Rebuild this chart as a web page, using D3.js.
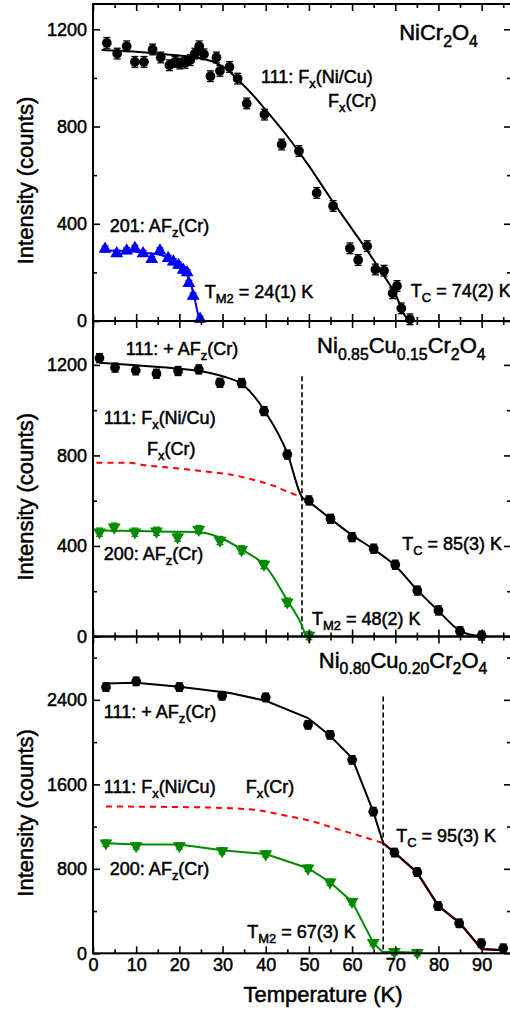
<!DOCTYPE html>
<html>
<head>
<meta charset="utf-8">
<title>Ni(1-x)Cu(x)Cr2O4 - magnetic intensities</title>
<script src="https://cdn.jsdelivr.net/npm/d3@7"></script>
<style>
  body { margin: 0; background: #fff; }
  svg text { font-family: "Liberation Sans", Arial, sans-serif; fill: #000; }
</style>
</head>
<body>
<svg></svg>
<script>
// ---- data ----
// panel 1: NiCr2O4
const t1Black = [3.2,5.6,7.8,9.7,11.8,13.8,15.7,17.7,19.0,20.1,21.3,22.5,23.6,24.6,25.7,27.2,28.6,29.4,31.6,33.5,35.6,39.7,43.7,47.7,51.8,55.6,59.5,61.4,63.5,65.4,67.4,69.4,70.4,71.4,73.4];
const i1Black = [1144,1100,1130,1066,1066,1117,1084,1052,1066,1059,1062,1073,1100,1130,1097,1007,1084,1029,1045,997,895,849,726,699,527,473,299,251,308,212,207,114,144,52,7];
const err1Black = 22;
const t1BlackFit = [2,10,15,20,25,28,31,34,37,40,45,50,55,60,65,70,73,74.5];
const i1BlackFit = [1115,1108,1100,1092,1080,1065,1035,985,930,868,760,638,505,378,250,110,5,0];
const t1Blue = [2.8,5.5,7.8,9.7,11.6,13.6,15.5,17.4,18.6,19.8,20.9,21.8,22.2,23.2,24.8];
const i1Blue = [296,278,289,299,278,254,289,258,244,230,210,199,155,103,8];
const err1Blue = 12;
const t1BlueFit = [2.8,8,12,15,18,20,21.5,22.5,23.5,24.3,24.8,25.6];
const i1BlueFit = [290,288,280,275,255,232,200,160,95,30,2,0];

// panel 2: Ni0.85Cu0.15Cr2O4
const t2Black = [1.5,5.1,9.9,14.7,19.7,24.5,29.4,34.4,39.6,45,50,55,60,65,70,75.1,80,85,90];
const i2Black = [1230,1188,1176,1161,1173,1180,1121,1120,996,804,601,520,439,388,317,203,115,23,4];
const err2Black = 20;
const t2BlackFit = [1.5,10,20,25,30,35,40,45,48.4,50,55,60,65,70,75,80,85,87,90];
const i2BlackFit = [1210,1198,1183,1172,1150,1108,990,810,616,595,520,448,385,313,207,113,25,10,2];
const t2Green = [1.5,4.9,9.7,14.7,19.6,24.5,29.4,34.4,39.6,45,50];
const i2Green = [461,483,461,465,439,472,424,383,318,152,4];
const err2Green = 18;
const t2GreenFit = [1.5,10,20,25,30,35,40,45,48,49.5,51];
const i2GreenFit = [468,466,463,460,432,378,310,160,65,5,3];
const t2Red = [0.8,8,12,20,28,32,38,42,45,48.4];
const i2Red = [768,768,757,742,725,715,688,665,640,616];
const tm2Line2 = 48.4, tm2Top2 = 1150;

// panel 3: Ni0.80Cu0.20Cr2O4
const t3Black = [3,10,20,29.9,40,49.8,54.9,60,64.9,69.8,75.1,79.9,84.8,89.9,95];
const i3Black = [2521,2575,2521,2439,2423,2164,2069,1832,1342,954,768,448,284,95,47];
const err3Black = 40;
const t3BlackFit = [3,10,20,31.7,40,49.8,54.9,60,64.9,67.2,69.8,75,80,85,90,95];
const i3BlackFit = [2555,2562,2525,2464,2392,2228,2060,1849,1342,1043,954,768,448,284,40,30];
const t3Green = [3,10,20,29.9,40,49.8,54.9,60,64.9,69.8,75.1];
const i3Green = [1043,1017,1017,970,941,806,673,489,100,15,6];
const err3Green = 30;
const t3GreenFit = [3,10,20,29.9,40,49.8,54.9,60,64.9,67,70,75];
const i3GreenFit = [1043,1030,1030,975,941,806,673,489,100,15,12,8];
const t3Red = [3,20,31.7,37.5,45,49.5,57.2,62,67.2];
const i3Red = [1390,1385,1374,1358,1300,1263,1169,1110,1043];
const tm2Line3 = 67.2, tm2Top3 = 2432;

// axes
const xDomain = [0, 96.8];
const xMajor = [0,10,20,30,40,50,60,70,80,90];
const xMinor = [5,15,25,35,45,55,65,75,85,95];

// ---- drawing ----
const svg = d3.select('svg').attr('width', 510).attr('height', 1012);
const x = d3.scaleLinear().domain(xDomain).range([93, 511]);

const panels = [
  { top: 4, bottom: 321, ymax: 1304, yMajor: [0,400,800,1200], yMinor: [200,600,1000],
    series: [
      { fitT: t1BlackFit, fitI: i1BlackFit, t: t1Black, i: i1Black, err: err1Black, color: '#000', mark: 'circle', curve: d3.curveMonotoneX },
      { fitT: t1BlueFit, fitI: i1BlueFit, t: t1Blue, i: i1Blue, err: err1Blue, color: '#0000ff', mark: 'up', curve: d3.curveMonotoneX }
    ],
    labels: [
      { s: 'NiCr_{2}O_{4}', t: 70.9, v: 1156, size: 22 },
      { s: '111: F_{x}(Ni/Cu)', t: 38.9, v: 979 },
      { s: 'F_{x}(Cr)', t: 54.4, v: 880 },
      { s: '201: AF_{z}(Cr)', t: 3.9, v: 366 },
      { s: 'T_{M2} = 24(1) K', t: 25.9, v: 95 },
      { s: 'T_{C} = 74(2) K', t: 73.6, v: 99 }
    ] },
  { top: 321, bottom: 636.5, ymax: 1394, yMajor: [0,400,800,1200], yMinor: [200,600,1000],
    red: { t: t2Red, i: i2Red }, vline: { t: tm2Line2, top: tm2Top2 },
    series: [
      { fitT: t2BlackFit, fitI: i2BlackFit, t: t2Black, i: i2Black, err: err2Black, color: '#000', mark: 'circle', curve: d3.curveMonotoneX },
      { fitT: t2GreenFit, fitI: i2GreenFit, t: t2Green, i: i2Green, err: err2Green, color: '#008a00', mark: 'down', curve: d3.curveMonotoneX }
    ],
    labels: [
      { s: 'Ni_{0.85}Cu_{0.15}Cr_{2}O_{4}', t: 51.9, v: 1253, size: 22 },
      { s: '111: + AF_{z}(Cr)', t: 7.6, v: 1244 },
      { s: '111: F_{x}(Ni/Cu)', t: 2.5, v: 939 },
      { s: 'F_{x}(Cr)', t: 12.5, v: 802 },
      { s: '200: AF_{z}(Cr)', t: 2.5, v: 338 },
      { s: 'T_{C} = 85(3) K', t: 71.6, v: 382 },
      { s: 'T_{M2} = 48(2) K', t: 50.7, v: 51 }
    ] },
  { top: 636.5, bottom: 953.3, ymax: 3000, yMajor: [0,800,1600,2400], yMinor: [400,1200,2000,2800],
    red: { t: t3Red, i: i3Red, tail: true }, vline: { t: tm2Line3, top: tm2Top3 },
    series: [
      { fitT: t3BlackFit, fitI: i3BlackFit, t: t3Black, i: i3Black, err: err3Black, color: '#000', mark: 'circle', curve: d3.curveLinear },
      { fitT: t3GreenFit, fitI: i3GreenFit, t: t3Green, i: i3Green, err: err3Green, color: '#008a00', mark: 'down', curve: d3.curveLinear }
    ],
    labels: [
      { s: 'Ni_{0.80}Cu_{0.20}Cr_{2}O_{4}', t: 52.3, v: 2703, size: 22 },
      { s: '111: + AF_{z}(Cr)', t: 2.5, v: 2229 },
      { s: '111: F_{x}(Ni/Cu)', t: 2.5, v: 1519 },
      { s: 'F_{x}(Cr)', t: 35.4, v: 1519 },
      { s: '200: AF_{z}(Cr)', t: 3.9, v: 742 },
      { s: 'T_{C} = 95(3) K', t: 70.2, v: 1055 },
      { s: 'T_{M2} = 67(3) K', t: 35.7, v: 145 }
    ] }
];

const textStroke = 0.5;

// text with _{sub} parts
function richText(g, str, px, py, size) {
  const t = g.append('text').attr('x', px).attr('y', py).attr('font-size', size)
    .style('stroke', '#000').style('stroke-width', textStroke);
  const parts = str.split(/(_\{[^}]*\})/).filter(p => p.length);
  let shift = 0;
  parts.forEach(p => {
    const ts = t.append('tspan');
    if (p.startsWith('_{')) {
      const target = size * 0.3;
      ts.text(p.slice(2, -1)).attr('font-size', size * 0.72).attr('dy', target - shift);
      shift = target;
    } else {
      ts.text(p).attr('dy', -shift);
      shift = 0;
    }
  });
}

const circleSym = d3.symbol(d3.symbolCircle, 75);
const triSym = d3.symbol(d3.symbolTriangle, 72);

panels.forEach((p, k) => {
  const y = d3.scaleLinear().domain([0, p.ymax]).range([p.bottom, p.top]);
  const g = svg.append('g');
  const line = (curve) => d3.line().x(d => x(d[0])).y(d => y(d[1])).curve(curve);

  // dashed red F_x(Cr) component
  if (p.red) {
    g.append('path').datum(d3.zip(p.red.t, p.red.i))
      .attr('d', line(d3.curveMonotoneX)).attr('fill', 'none')
      .attr('stroke', '#ff0000').attr('stroke-width', 2).attr('stroke-dasharray', '6,5');
    if (p.red.tail) {
      const fit = p.series[0];
      const tail = d3.zip(fit.fitT, fit.fitI).filter(d => d[0] >= p.red.t[p.red.t.length - 1]);
      g.append('path').datum(tail).attr('d', line(d3.curveLinear)).attr('fill', 'none')
        .attr('stroke', '#ff0000').attr('stroke-width', 2.4);
    }
  }
  // vertical dashed T_M2 marker
  if (p.vline) {
    g.append('line').attr('x1', x(p.vline.t)).attr('x2', x(p.vline.t))
      .attr('y1', y(p.vline.top)).attr('y2', y(0))
      .attr('stroke', '#000').attr('stroke-width', 1.6).attr('stroke-dasharray', '5,3');
  }

  p.series.forEach(s => {
    g.append('path').datum(d3.zip(s.fitT, s.fitI))
      .attr('d', line(s.curve)).attr('fill', 'none')
      .attr('stroke', s.color).attr('stroke-width', 2);
    const pts = d3.zip(s.t, s.i);
    const eb = g.append('g').attr('stroke', s.color).attr('stroke-width', 1.3);
    pts.forEach(d => {
      const cx = x(d[0]), y0 = y(d[1] - s.err), y1 = y(d[1] + s.err);
      eb.append('line').attr('x1', cx).attr('x2', cx).attr('y1', y0).attr('y2', y1);
      eb.append('line').attr('x1', cx - 3.5).attr('x2', cx + 3.5).attr('y1', y0).attr('y2', y0);
      eb.append('line').attr('x1', cx - 3.5).attr('x2', cx + 3.5).attr('y1', y1).attr('y2', y1);
    });
    g.selectAll(null).data(pts).enter().append('path')
      .attr('d', s.mark === 'circle' ? circleSym : triSym)
      .attr('transform', d => `translate(${x(d[0])},${y(d[1])})` + (s.mark === 'down' ? ' rotate(180)' : ''))
      .attr('fill', s.color);
  });

  // axes, ticks pointing inward on all four sides
  const isLast = k === panels.length - 1;
  const styleAxis = a => {
    a.select('.domain').remove();
    a.selectAll('line').attr('stroke-width', 1.6);
    a.selectAll('text').attr('font-size', 18).attr('font-family', null)
      .style('stroke', '#000').style('stroke-width', textStroke);
  };
  g.append('g').attr('transform', `translate(0,${p.bottom})`)
    .call(d3.axisBottom(x).tickValues(xMajor).tickSize(-7).tickPadding(5).tickFormat(isLast ? d3.format('d') : () => ''))
    .call(styleAxis);
  g.append('g').attr('transform', `translate(0,${p.bottom})`)
    .call(d3.axisBottom(x).tickValues(xMinor).tickSize(-4).tickFormat(() => '')).call(styleAxis);
  g.append('g').attr('transform', `translate(0,${p.top})`)
    .call(d3.axisTop(x).tickValues(xMajor).tickSize(-7).tickFormat(() => '')).call(styleAxis);
  g.append('g').attr('transform', `translate(0,${p.top})`)
    .call(d3.axisTop(x).tickValues(xMinor).tickSize(-4).tickFormat(() => '')).call(styleAxis);
  g.append('g').attr('transform', `translate(93,0)`)
    .call(d3.axisLeft(y).tickValues(p.yMajor).tickSize(-7).tickPadding(6).tickFormat(d3.format('d'))).call(styleAxis);
  g.append('g').attr('transform', `translate(93,0)`)
    .call(d3.axisLeft(y).tickValues(p.yMinor).tickSize(-4).tickFormat(() => '')).call(styleAxis);
  g.append('g').attr('transform', `translate(511,0)`)
    .call(d3.axisRight(y).tickValues(p.yMajor).tickSize(-7).tickFormat(() => '')).call(styleAxis);
  g.append('g').attr('transform', `translate(511,0)`)
    .call(d3.axisRight(y).tickValues(p.yMinor).tickSize(-4).tickFormat(() => '')).call(styleAxis);

  g.append('rect').attr('x', 93).attr('y', p.top).attr('width', 418).attr('height', p.bottom - p.top)
    .attr('fill', 'none').attr('stroke', '#000').attr('stroke-width', 2);

  // y title
  g.append('text').attr('transform', `translate(33,${(p.top + p.bottom) / 2 + 18}) rotate(-90)`)
    .attr('text-anchor', 'middle').attr('font-size', 22)
    .style('stroke', '#000').style('stroke-width', textStroke)
    .text('Intensity (counts)');

  p.labels.forEach(l => richText(g, l.s, x(l.t), y(l.v), l.size || 18));
});

svg.append('text').attr('x', 323).attr('y', 1002).attr('text-anchor', 'middle')
  .attr('font-size', 22).style('stroke', '#000').style('stroke-width', textStroke)
  .text('Temperature (K)');
</script>
</body>
</html>
